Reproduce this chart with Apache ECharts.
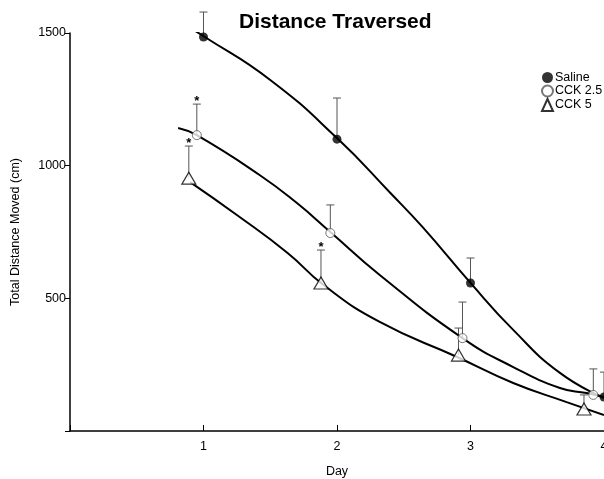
<!DOCTYPE html>
<html>
<head>
<meta charset="utf-8">
<script src="https://cdn.jsdelivr.net/npm/echarts@6/dist/echarts.min.js"></script>
<style>
  html, body { margin: 0; padding: 0; background: #fff; }
  #chart { width: 604px; height: 479px; }
</style>
</head>
<body>
<div id="chart"></div>
<script>
// measured points (day offset, mean, top of error bar, significance flag)
var salineX = [1, 2, 3, 4];
var salineY = [1485, 1100, 558, 128];
var salineErr = [1579, 1255, 652, 222];
var salineSig = [0, 0, 0, 0];

var cck25X = [0.95, 1.95, 2.94, 3.92];
var cck25Y = [1115, 746, 350, 136];
var cck25Err = [1232, 852, 486, 234];
var cck25Sig = [1, 0, 0, 0];

var cck5X = [0.89, 1.88, 2.91, 3.85];
var cck5Y = [953, 558, 286, 83];
var cck5Err = [1074, 682, 388, 136];
var cck5Sig = [1, 1, 0, 0];

// hand-drawn fitted curves
var salineCurve = [[0.80, 1549], [1.01, 1485], [1.50, 1323], [2.00, 1104], [2.40, 897], [2.64, 769],
  [3.00, 558], [3.32, 381], [3.67, 219], [4.00, 124]];
var cck25Curve = [[0.81, 1142], [0.95, 1115], [1.42, 965], [1.70, 859], [1.95, 750], [2.32, 588],
  [2.94, 350], [3.32, 241], [3.67, 162], [3.87, 143], [4.00, 128]];
var cck5Curve = [[0.90, 938], [1.25, 814], [1.63, 671], [1.90, 550], [2.32, 411], [2.90, 279],
  [3.32, 181], [3.72, 109], [4.00, 60]];

var dayTicks = ['1', '2', '3', '4'];

function zip(xs, ys) {
  return xs.map(function (x, i) { return [x, ys[i]]; });
}
function errData(xs, ys, tops, sig) {
  return xs.map(function (x, i) { return [x, ys[i], tops[i], sig[i]]; });
}

function renderErr(params, api) {
  var p = api.coord([api.value(0), api.value(1)]);
  var t = api.coord([api.value(0), api.value(2)]);
  var st = { stroke: '#555', lineWidth: 1 };
  var kids = [
    { type: 'line', shape: { x1: p[0], y1: p[1], x2: t[0], y2: t[1] }, style: st },
    { type: 'line', shape: { x1: t[0] - 4, y1: t[1], x2: t[0] + 4, y2: t[1] }, style: st }
  ];
  if (api.value(3)) {
    kids.push({
      type: 'text',
      style: { x: t[0], y: t[1] + 4, text: '*', fill: '#000', font: 'bold 13px "Liberation Sans"', align: 'center', verticalAlign: 'bottom' }
    });
  }
  return { type: 'group', children: kids };
}

var chart = echarts.init(document.getElementById('chart'));

var curveStyle = { color: '#000', width: 2 };

var option = {
  animation: false,
  backgroundColor: '#fff',
  textStyle: { fontFamily: 'Liberation Sans', color: '#000' },
  title: {
    text: 'Distance Traversed',
    left: 234,
    top: 7,
    textStyle: { fontFamily: 'Liberation Sans', fontWeight: 'bold', fontSize: 21, color: '#000' }
  },
  legend: {
    orient: 'vertical',
    left: 541,
    top: 71,
    padding: 0,
    itemGap: 0.5,
    itemWidth: 11,
    itemHeight: 12,
    textStyle: { fontSize: 12.5, color: '#000', padding: [0, 0, 0, -3] },
    data: ['Saline', 'CCK 2.5', 'CCK 5']
  },
  grid: { left: 70, right: 0, top: 33, bottom: 48, outerBoundsMode: 'none' },
  xAxis: {
    type: 'value',
    min: 0,
    max: 4,
    interval: 1,
    name: 'Day',
    nameLocation: 'middle',
    nameGap: 34,
    nameTextStyle: { fontSize: 12.5, color: '#000' },
    axisLine: { lineStyle: { color: '#000', width: 1.5 } },
    axisTick: { inside: true, length: 6, lineStyle: { color: '#000' } },
    axisLabel: {
      fontSize: 12.5, color: '#000', margin: 9,
      formatter: function (v) { return v >= 1 ? dayTicks[v - 1] : ''; }
    },
    splitLine: { show: false }
  },
  yAxis: {
    type: 'value',
    min: 0,
    max: 1500,
    interval: 500,
    name: 'Total Distance Moved (cm)',
    nameLocation: 'middle',
    nameGap: 48,
    nameTextStyle: { fontSize: 12.5, color: '#000' },
    axisLine: { show: true, lineStyle: { color: '#000', width: 1.5 } },
    axisTick: { show: true, length: 5, lineStyle: { color: '#000' } },
    axisLabel: {
      fontSize: 12.5, color: '#000', margin: 4,
      formatter: function (v) { return v === 0 ? '' : String(v); }
    },
    splitLine: { show: false }
  },
  series: [
    { type: 'line', data: salineCurve, smooth: 0.5, showSymbol: false, lineStyle: curveStyle, silent: true, z: 2 },
    { type: 'line', data: cck25Curve, smooth: 0.5, showSymbol: false, lineStyle: curveStyle, silent: true, z: 2 },
    { type: 'line', data: cck5Curve, smooth: 0.5, showSymbol: false, lineStyle: curveStyle, silent: true, z: 2 },
    { type: 'custom', data: errData(salineX, salineY, salineErr, salineSig), renderItem: renderErr, z: 1 },
    { type: 'custom', data: errData(cck25X, cck25Y, cck25Err, cck25Sig), renderItem: renderErr, z: 1 },
    { type: 'custom', data: errData(cck5X, cck5Y, cck5Err, cck5Sig), renderItem: renderErr, z: 1 },
    {
      name: 'Saline', type: 'scatter', data: zip(salineX, salineY),
      symbol: 'circle', symbolSize: 9, itemStyle: { color: '#000' }, z: 5
    },
    {
      name: 'CCK 2.5', type: 'scatter', data: zip(cck25X, cck25Y),
      symbol: 'circle', symbolSize: 9,
      itemStyle: { color: '#fff', borderColor: '#555', borderWidth: 1 }, z: 5
    },
    {
      name: 'CCK 5', type: 'scatter', data: zip(cck5X, cck5Y),
      symbol: 'triangle', symbolSize: [14, 12],
      itemStyle: { color: '#fff', borderColor: '#000', borderWidth: 1.2 }, z: 5
    }
  ]
};

chart.setOption(option);
window.addEventListener('resize', function () { chart.resize(); });
</script>
</body>
</html>
